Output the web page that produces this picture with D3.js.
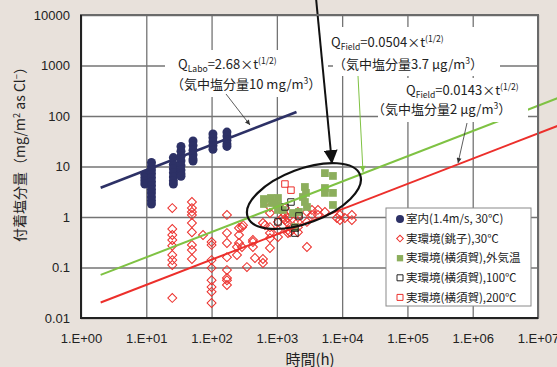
<!DOCTYPE html>
<html>
<head>
<meta charset="utf-8">
<script src="https://cdn.jsdelivr.net/npm/d3@7"></script>
<style>
  body { margin: 0; background: #e8e1db; }
  svg { display: block; }
  .num { font-family: "Liberation Sans", Arial, sans-serif; }
  .jp { font-family: "Noto Sans CJK JP", sans-serif; }
</style>
</head>
<body>
<div id="app"></div>
<script>
"use strict";

// values: [time (h), deposited salt (mg/m2)]
const indoorPoints = [
  [9.5, 7], [9.5, 6], [9.5, 5.2], [9.5, 4.5],
  [12, 12], [12, 10], [12, 8.5], [12, 7.2], [12, 6], [12, 5], [12, 4.2], [12, 3.5],
  [12, 3], [12, 2.5], [12, 2.1], [12, 1.8],
  [26, 15], [26, 11], [26, 9], [26, 7.5], [26, 6.2], [26, 5.2], [26, 4.5],
  [34, 25], [34, 20], [34, 16], [34, 13], [34, 10.5], [34, 8.5], [34, 7.2], [34, 6.4],
  [52, 32], [52, 26], [52, 21], [52, 17], [52, 14], [52, 12.8],
  [105, 44], [105, 37], [105, 31], [105, 26], [105, 22],
  [172, 48], [172, 40], [172, 33], [172, 28], [172, 25]
];

const choshiPoints = [
  [25, 1.5], [25, 0.58], [25, 0.44], [25, 0.35], [25, 0.27], [25, 0.177], [25, 0.14], [25, 0.112], [25, 0.025],
  [50, 1.98], [50, 1.5], [50, 1.26], [50, 1.1], [50, 0.76], [50, 0.5], [50, 0.28], [50, 0.222], [50, 0.147],
  [74, 0.44],
  [100, 0.32], [100, 0.28], [100, 0.14], [100, 0.098], [100, 0.056], [100, 0.041], [100, 0.033], [100, 0.0198],
  [172, 1.1], [172, 0.48], [172, 0.305], [172, 0.16], [172, 0.089], [172, 0.062], [172, 0.056], [172, 0.045],
  [245, 0.177], [245, 0.255], [263, 0.605], [263, 0.44], [263, 0.305], [292, 0.63], [292, 0.255],
  [303, 0.69], [348, 0.102], [430, 0.32], [430, 0.255], [430, 0.35], [462, 0.154],
  [612, 0.147], [612, 0.123], [612, 0.76], [657, 0.69],
  [784, 1.58], [784, 1.2], [784, 0.63], [784, 0.48], [784, 0.38], [784, 0.243],
  [1040, 0.8], [1040, 0.55], [1040, 0.4], [1240, 1.26], [1240, 1.0],
  [1330, 1.5], [1330, 1.1], [1330, 0.87], [1480, 0.955], [1480, 0.76], [1480, 0.55], [1480, 0.48],
  [1590, 0.63], [1590, 0.5],
  [2100, 1.26], [2100, 1.0], [2100, 0.8], [2100, 0.63], [2100, 0.5],
  [2890, 1.26], [2890, 0.8], [2890, 0.255], [3450, 1.38], [3450, 1.1], [4260, 1.38], [4260, 1.1],
  [5450, 1.26], [8320, 0.955], [9250, 1.1], [9250, 0.87], [11000, 0.955], [14100, 1.1], [14100, 0.87]
];

const yokosukaOutdoor = [
  [634, 2.27], [634, 1.81], [812, 2.38], [841, 1.89], [1040, 2.38], [1040, 1.73], [1040, 1.38],
  [1240, 1.38], [1764, 1.2], [2180, 1.26], [2510, 2.49], [2690, 3.93], [2790, 3.0], [2690, 1.98],
  [2890, 1.58], [5450, 7.4], [7230, 6.5], [5450, 3.75], [5450, 3.0], [7230, 3.0], [7230, 1.73],
  [1893, 0.63]
];

const yokosuka100 = [[1645, 1.98], [1330, 1.58], [1040, 0.8], [2180, 1.05], [1893, 0.605], [1893, 0.48]];
const yokosuka200 = [[1330, 4.5], [1645, 3.4]];

// Q = a * t^(1/2)
const fitCoefs = [2.68, 0.0504, 0.0143];
const fitRanges = [[2, 2000], [2, 2e7], [2, 2e7]];

const xTicks = [1, 10, 100, 1e3, 1e4, 1e5, 1e6, 1e7];
const xTickLabels = ["1.E+00", "1.E+01", "1.E+02", "1.E+03", "1.E+04", "1.E+05", "1.E+06", "1.E+07"];
const yTicks = [0.01, 0.1, 1, 10, 100, 1000, 10000];
const yTickLabels = ["0.01", "0.1", "1", "10", "100", "1000", "10000"];

const seriesNames = [
  "室内(1.4m/s, 30℃)",
  "実環境(銚子),30℃",
  "実環境(横須賀),外気温",
  "実環境(横須賀),100℃",
  "実環境(横須賀),200℃"
];

const NAVY = "#2d3166";
const RED = "#ec2f2b";
const GREEN_PT = "#8cae5c";
const GREEN_LINE = "#7fc243";

class SaltChart {
  constructor() {
    this._width = 557;
    this._height = 367;
    this._plot = { left: 81, top: 15, right: 538, bottom: 318 };
    this._x = d3.scaleLog().domain([1, 1e7]).range([this._plot.left, this._plot.right]);
    this._y = d3.scaleLog().domain([0.01, 10000]).range([this._plot.bottom, this._plot.top]);

    this._svg = d3.select("#app").append("svg")
      .attr("width", this._width)
      .attr("height", this._height);

    this._initDefs();
    this._initGrid();
    this._initPoints();
    this._initFits();
    this._initNotes();
    this._initEllipse();
    this._initLegend();
    this._initAxes();
  }

  _initDefs() {
    const defs = this._svg.append("defs");
    const head = (id, w, h, color) => defs.append("marker")
      .attr("id", id)
      .attr("viewBox", "0 0 10 10")
      .attr("refX", 10).attr("refY", 5)
      .attr("markerWidth", w).attr("markerHeight", h)
      .attr("markerUnits", "userSpaceOnUse")
      .attr("orient", "auto")
      .append("path").attr("d", "M0,0 L10,5 L0,10 z").attr("fill", color);
    head("bigHead", 14, 14, "#111");
    head("smallHead", 6, 5, "#333");
    head("greenHead", 7, 6, GREEN_LINE);
  }

  _initGrid() {
    const p = this._plot;
    this._svg.append("rect")
      .attr("x", p.left).attr("y", p.top)
      .attr("width", p.right - p.left).attr("height", p.bottom - p.top)
      .attr("fill", "#fff");

    const gx = this._svg.append("g")
      .attr("transform", "translate(0," + p.bottom + ")")
      .call(d3.axisBottom(this._x).tickValues(xTicks).tickSize(-(p.bottom - p.top)).tickFormat(""));
    const gy = this._svg.append("g")
      .attr("transform", "translate(" + p.left + ",0)")
      .call(d3.axisLeft(this._y).tickValues(yTicks).tickSize(-(p.right - p.left)).tickFormat(""));
    for (const g of [gx, gy]) {
      g.select(".domain").remove();
      g.selectAll("line").attr("stroke", "#747474").attr("stroke-width", 1.3);
    }
  }

  _symbols(data, type, size, rotate, fill, stroke, width) {
    const x = this._x, y = this._y;
    this._svg.append("g")
      .selectAll("path")
      .data(data)
      .join("path")
      .attr("transform", d => "translate(" + x(d[0]) + "," + y(d[1]) + ") rotate(" + rotate + ")")
      .attr("d", d3.symbol(type, size)())
      .attr("fill", fill)
      .attr("stroke", stroke)
      .attr("stroke-width", width);
  }

  _initPoints() {
    const x = this._x, y = this._y;
    this._svg.append("g")
      .selectAll("circle")
      .data(indoorPoints)
      .join("circle")
      .attr("cx", d => x(d[0]))
      .attr("cy", d => y(d[1]))
      .attr("r", 4.5)
      .attr("fill", NAVY);
    this._symbols(choshiPoints, d3.symbolSquare, 40, 45, "none", RED, 1);
    this._symbols(yokosukaOutdoor, d3.symbolSquare, 60, 0, GREEN_PT, "none", 0);
    this._symbols(yokosuka100, d3.symbolSquare, 42, 0, "none", "#222", 1);
    this._symbols(yokosuka200, d3.symbolSquare, 42, 0, "none", RED, 1);
  }

  _initFits() {
    const colors = [NAVY, GREEN_LINE, RED];
    const widths = [2.6, 2, 2];
    const line = d3.line().x(d => this._x(d[0])).y(d => this._y(d[1]));
    fitCoefs.forEach((a, i) => {
      const pts = fitRanges[i].map(t => [t, a * Math.sqrt(t)]);
      this._svg.append("path")
        .attr("d", line(pts))
        .attr("fill", "none")
        .attr("stroke", colors[i])
        .attr("stroke-width", widths[i]);
    });
  }

  _richText(x, y, parts, size) {
    const text = this._svg.append("text")
      .attr("class", "jp")
      .attr("x", x).attr("y", y)
      .attr("font-size", size)
      .attr("fill", "#222");
    let shift = 0;
    for (const [str, kind] of parts) {
      const target = kind === "sub" ? 3 : kind === "sup" ? -5 : 0;
      text.append("tspan")
        .attr("dy", target - shift)
        .attr("font-size", kind ? size * 0.66 : size)
        .text(str);
      shift = target;
    }
    return text;
  }

  _initNotes() {
    const boxes = [[165, 50, 163, 47], [333, 27, 167, 49], [378, 78, 150, 44]];
    for (const b of boxes) {
      this._svg.append("rect")
        .attr("x", b[0]).attr("y", b[1])
        .attr("width", b[2]).attr("height", b[3])
        .attr("fill", "#fff");
    }

    this._richText(178, 69, [["Q", ""], ["Labo", "sub"], ["=2.68×t", ""], ["(1/2)", "sup"]], 13);
    this._richText(171, 89, [["（気中塩分量10 mg/m", ""], ["3", "sup"], ["）", ""]], 13);
    this._richText(331, 47, [["Q", ""], ["Field", "sub"], ["=0.0504×t", ""], ["(1/2)", "sup"]], 13);
    this._richText(333, 69, [["（気中塩分量3.7 μg/m", ""], ["3", "sup"], ["）", ""]], 13);
    this._richText(406, 95, [["Q", ""], ["Field", "sub"], ["=0.0143×t", ""], ["(1/2)", "sup"]], 13);
    this._richText(372, 114, [["（気中塩分量2 μg/m", ""], ["3", "sup"], ["）", ""]], 13);

    const leader = (x1, y1, x2, y2, color, width, head) => this._svg.append("line")
      .attr("x1", x1).attr("y1", y1).attr("x2", x2).attr("y2", y2)
      .attr("stroke", color).attr("stroke-width", width)
      .attr("marker-end", "url(#" + head + ")");
    leader(226, 94, 250, 125, "#333", 0.8, "smallHead");
    leader(358, 76, 363, 172, GREEN_LINE, 1, "greenHead");
    leader(467, 123, 458, 163, "#333", 0.8, "smallHead");
  }

  _initEllipse() {
    // ring drawn round the Yokosuka cluster
    const cx = this._x(2600), cy = this._y(2.6);
    this._svg.append("ellipse")
      .attr("transform", "translate(" + cx + "," + cy + ") rotate(-20.6)")
      .attr("rx", 60).attr("ry", 27)
      .attr("fill", "none")
      .attr("stroke", "#111")
      .attr("stroke-width", 2.2);
    this._svg.append("line")
      .attr("x1", 316).attr("y1", -2)
      .attr("x2", 332).attr("y2", 164)
      .attr("stroke", "#111").attr("stroke-width", 2)
      .attr("marker-end", "url(#bigHead)");
  }

  _initLegend() {
    const lg = this._svg.append("g");
    lg.append("rect")
      .attr("x", 386).attr("y", 208)
      .attr("width", 145).attr("height", 98)
      .attr("fill", "#fff")
      .attr("stroke", "#8a8a8a");
    const rows = seriesNames.map((name, i) => ({ name: name, cy: 219 + i * 19.6 }));
    lg.append("circle").attr("cx", 400).attr("cy", rows[0].cy).attr("r", 4).attr("fill", NAVY);
    const marks = [
      null,
      [d3.symbolSquare, 22, 45, "none", RED],
      [d3.symbolSquare, 40, 0, GREEN_PT, "none"],
      [d3.symbolSquare, 36, 0, "none", "#222"],
      [d3.symbolSquare, 36, 0, "none", RED]
    ];
    marks.forEach((m, i) => {
      if (!m) return;
      lg.append("path")
        .attr("transform", "translate(400," + rows[i].cy + ") rotate(" + m[2] + ")")
        .attr("d", d3.symbol(m[0], m[1])())
        .attr("fill", m[3])
        .attr("stroke", m[4])
        .attr("stroke-width", 1);
    });
    lg.selectAll("text")
      .data(rows)
      .join("text")
      .attr("class", "jp")
      .attr("x", 406)
      .attr("y", d => d.cy)
      .attr("dy", "0.36em")
      .attr("font-size", 11.5)
      .attr("fill", "#222")
      .text(d => d.name);
  }

  _initAxes() {
    const p = this._plot;
    this._svg.append("rect")
      .attr("x", p.left).attr("y", p.top)
      .attr("width", p.right - p.left).attr("height", p.bottom - p.top)
      .attr("fill", "none")
      .attr("stroke", "#6a6a6a")
      .attr("stroke-width", 2);
    this._svg.append("path")
      .attr("d", "M" + p.left + "," + p.top + "V" + p.bottom + "H" + p.right)
      .attr("fill", "none")
      .attr("stroke", "#222")
      .attr("stroke-width", 2);

    const ax = this._svg.append("g")
      .attr("transform", "translate(0," + p.bottom + ")")
      .call(d3.axisBottom(this._x).tickValues(xTicks).tickSize(0).tickPadding(16)
        .tickFormat((d, i) => xTickLabels[i]));
    const ay = this._svg.append("g")
      .attr("transform", "translate(" + p.left + ",0)")
      .call(d3.axisLeft(this._y).tickValues(yTicks).tickSize(0).tickPadding(11)
        .tickFormat((d, i) => yTickLabels[i]));
    for (const g of [ax, ay]) {
      g.select(".domain").remove();
      g.attr("font-family", null).attr("font-size", null);
      g.selectAll("text").attr("class", "num").attr("font-size", 13).attr("fill", "#222");
    }

    this._svg.append("text")
      .attr("class", "jp")
      .attr("x", 310).attr("y", 365)
      .attr("text-anchor", "middle")
      .attr("font-size", 15)
      .attr("fill", "#222")
      .text("時間(h)");

    const title = this._richText(0, 0, [["付着塩分量（mg/m", ""], ["2", "sup"], [" as Cl", ""], ["−", "sup"], ["）", ""]], 14);
    title.attr("transform", "translate(25,151) rotate(-90)").attr("text-anchor", "middle");
  }
}

new SaltChart();
</script>
</body>
</html>
